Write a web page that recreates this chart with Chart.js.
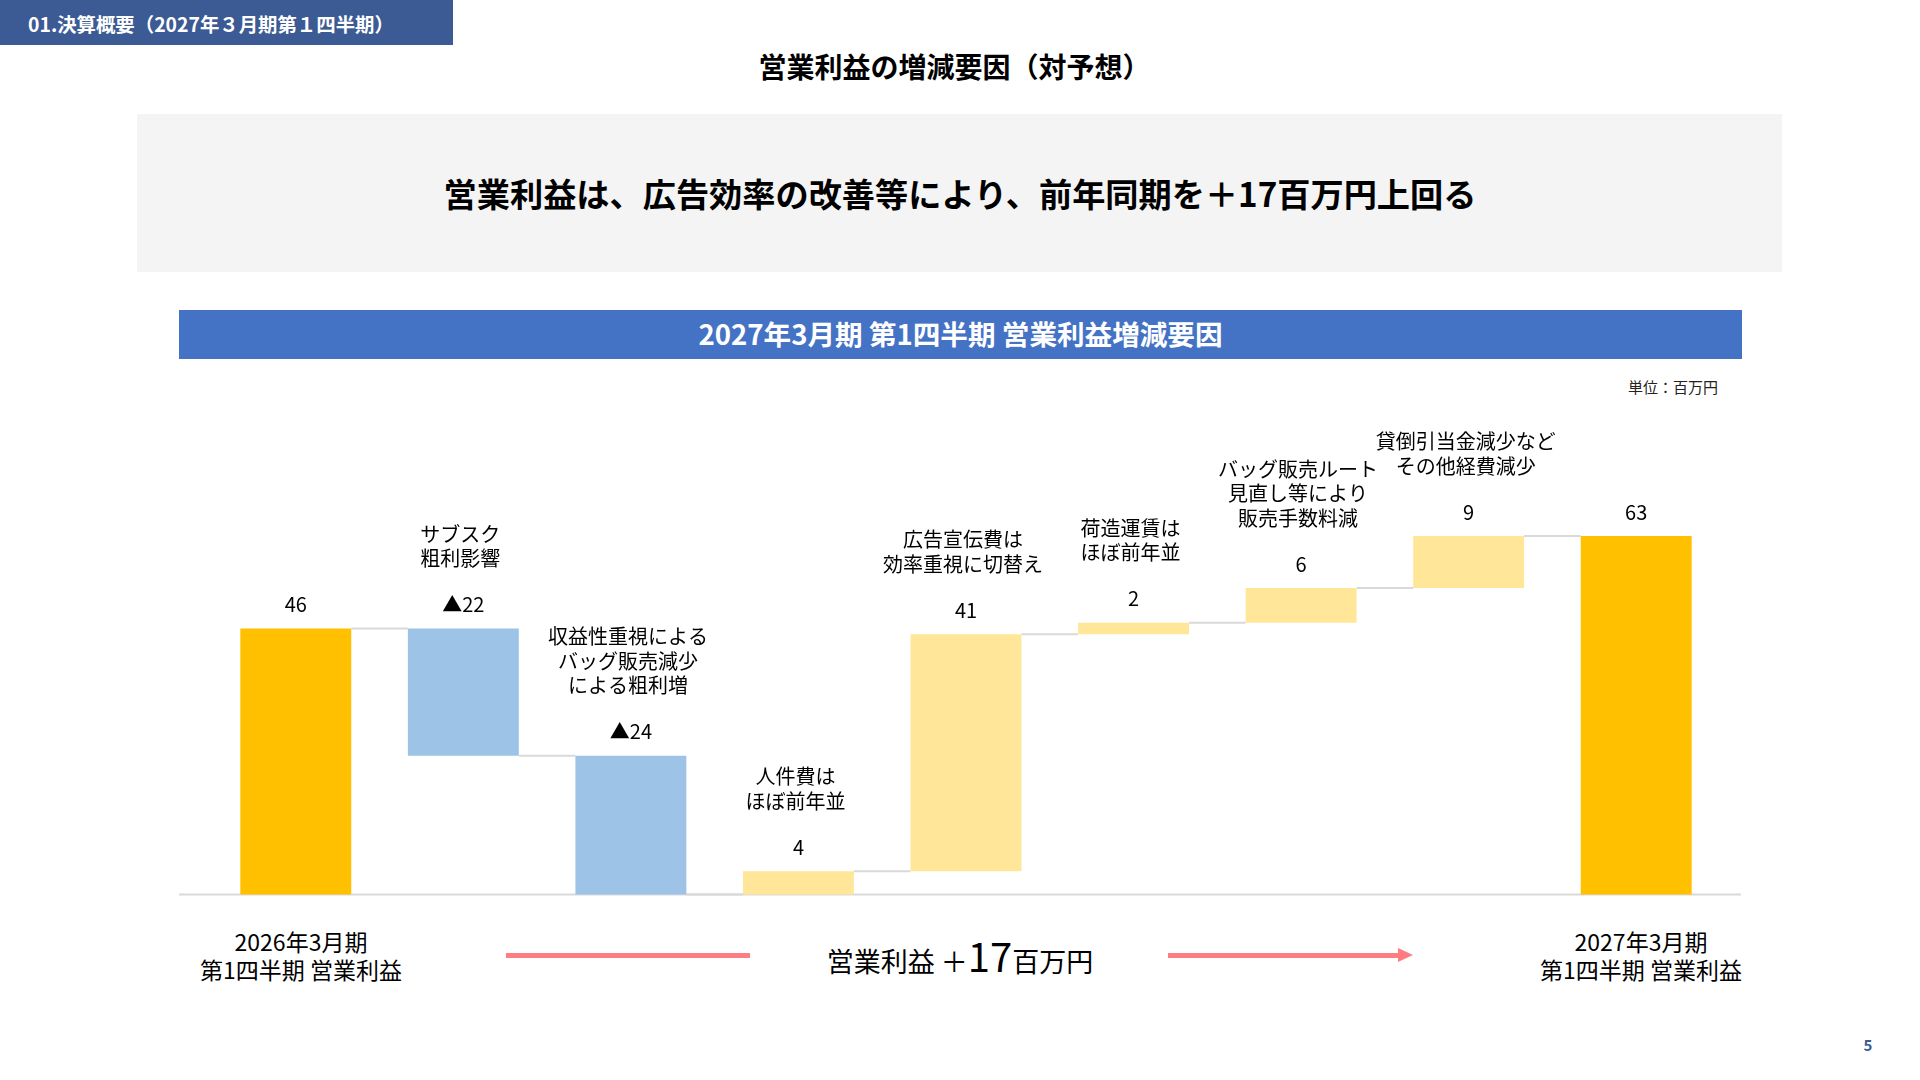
<!DOCTYPE html>
<html lang="ja">
<head>
<meta charset="utf-8">
<script src="https://cdn.jsdelivr.net/npm/chart.js@4.4.1/dist/chart.umd.min.js"></script>
<style>
  html, body { margin: 0; padding: 0; background: #fff; }
  body { width: 1920px; height: 1080px; position: relative; overflow: hidden;
         font-family: 'Noto Sans CJK JP', 'Noto Sans', sans-serif; color: #000; }
  .abs { position: absolute; white-space: nowrap; }
  #hdr { left: 0; top: 0; width: 453px; height: 45px; background: #3C5A93; }
  #hdrText { left: 28px; top: 24px; transform: translateY(-50%); color: #fff; font-size: 19.4px; font-weight: 700; line-height: 1; }
  #title { left: 0; width: 1909px; text-align: center; top: 66px; transform: translateY(-50%); font-size: 28px; font-weight: 700; line-height: 1; }
  #greyBox { left: 137px; top: 114px; width: 1645px; height: 158px; background: #F4F4F4; }
  #headline { left: 0; width: 1920px; text-align: center; top: 193px; transform: translateY(-50%); font-size: 33.2px; font-weight: 700; line-height: 1; }
  #banner { left: 179px; top: 310px; width: 1563px; height: 49px; background: #4472C4; }
  #bannerText { left: 179px; width: 1563px; text-align: center; top: 334px; transform: translateY(-50%); color: #fff; font-size: 27.6px; font-weight: 700; line-height: 1; }
  #unit { right: 202px; top: 386px; transform: translateY(-50%); font-size: 15px; line-height: 1; color: #222; }
  .period { width: 300px; text-align: center; font-size: 23px; line-height: 28px; top: 927px; }
  #leftPeriod { left: 151px; }
  #rightPeriod { left: 1491px; }
  #mid { left: 0; width: 1920px; text-align: center; top: 955px; transform: translateY(-50%); line-height: 1; font-size: 27px; }
  #mid .big { font-size: 40px; }
  #line1 { left: 506px; top: 953px; width: 244px; height: 5px; background: #FF7C80; }
  #line2 { left: 1168px; top: 953px; width: 232px; height: 5px; background: #FF7C80; }
  #arrowHead { left: 1398px; top: 948px; width: 0; height: 0; border-top: 7.5px solid transparent; border-bottom: 7.5px solid transparent; border-left: 15px solid #FF7C80; }
  #page { left: 1868px; top: 1044px; transform: translate(-50%, -50%); font-size: 15px; font-weight: 700; color: #3C5A93; line-height: 1; }
  #chartCanvas { position: absolute; left: 0; top: 0; }
</style>
</head>
<body>
<div class="abs" id="hdr"></div>
<div class="abs" id="hdrText">01.決算概要（2027年３月期第１四半期）</div>
<div class="abs" id="title">営業利益の増減要因（対予想）</div>
<div class="abs" id="greyBox"></div>
<div class="abs" id="headline">営業利益は、広告効率の改善等により、前年同期を＋17百万円上回る</div>
<div class="abs" id="banner"></div>
<div class="abs" id="bannerText">2027年3月期 第1四半期 営業利益増減要因</div>
<div class="abs" id="unit">単位：百万円</div>
<div class="abs period" id="leftPeriod">2026年3月期<br>第1四半期 営業利益</div>
<div class="abs period" id="rightPeriod">2027年3月期<br>第1四半期 営業利益</div>
<div class="abs" id="line1"></div>
<div class="abs" id="line2"></div>
<div class="abs" id="arrowHead"></div>
<div class="abs" id="mid">営業利益 ＋<span class="big">17</span>百万円</div>
<div class="abs" id="page">5</div>
<canvas id="chartCanvas" width="1920" height="1080"></canvas>
<script>
// ---- data ----
const categories = [
  '2026年3月期 第1四半期 営業利益',
  'サブスク粗利影響',
  'バッグ販売減少による粗利増',
  '人件費',
  '広告宣伝費',
  '荷造運賃',
  '販売手数料',
  'その他経費',
  '2027年3月期 第1四半期 営業利益'
];
const startValue = 46;
const changes = [-22, -24, 4, 41, 2, 6, 9];
const valueLabels = ['46', '▲22', '▲24', '4', '41', '2', '6', '9', '63'];
const noteLines = [
  [],
  ['サブスク', '粗利影響'],
  ['収益性重視による', 'バッグ販売減少', 'による粗利増'],
  ['人件費は', 'ほぼ前年並'],
  ['広告宣伝費は', '効率重視に切替え'],
  ['荷造運賃は', 'ほぼ前年並'],
  ['バッグ販売ルート', '見直し等により', '販売手数料減'],
  ['貸倒引当金減少など', 'その他経費減少'],
  []
];

// ---- build waterfall ----
const floating = [];
const levels = [];
const colors = [];
let cum = startValue;
floating.push([0, startValue]); levels.push(cum); colors.push('#FFC000');
changes.forEach(c => {
  const prev = cum;
  cum += c;
  floating.push([Math.min(prev, cum), Math.max(prev, cum)]);
  levels.push(cum);
  colors.push(c < 0 ? '#9DC3E6' : '#FFE699');
});
floating.push([0, cum]); levels.push(cum); colors.push('#FFC000');

const FONT = "'Noto Sans CJK JP', 'Noto Sans', sans-serif";

const connectorPlugin = {
  id: 'connectors',
  beforeDatasetsDraw(chart) {
    const ctx = chart.ctx;
    const meta = chart.getDatasetMeta(0);
    const ys = chart.scales.y;
    ctx.save();
    ctx.strokeStyle = '#D9D9D9';
    ctx.lineWidth = 2;
    const y0 = ys.getPixelForValue(0);
    ctx.beginPath();
    ctx.moveTo(chart.chartArea.left - 33, y0);
    ctx.lineTo(chart.chartArea.right + 21, y0);
    ctx.stroke();
    for (let i = 0; i < meta.data.length - 1; i++) {
      const a = meta.data[i], b = meta.data[i + 1];
      const y = ys.getPixelForValue(levels[i]);
      ctx.beginPath();
      ctx.moveTo(a.x + a.width / 2, y);
      ctx.lineTo(b.x - b.width / 2, y);
      ctx.stroke();
    }
    ctx.restore();
  }
};

const labelPlugin = {
  id: 'labels',
  afterDatasetsDraw(chart) {
    const ctx = chart.ctx;
    const meta = chart.getDatasetMeta(0);
    ctx.save();
    ctx.fillStyle = '#000';
    ctx.textAlign = 'center';
    ctx.textBaseline = 'middle';
    meta.data.forEach((bar, i) => {
      const top = Math.min(bar.y, bar.base);
      const vy = top - 24;
      ctx.font = '20px ' + FONT;
      ctx.fillText(valueLabels[i], bar.x, vy);
      const lines = noteLines[i];
      ctx.font = '20px ' + FONT;
      for (let k = 0; k < lines.length; k++) {
        const ly = vy - 46 - (lines.length - 1 - k) * 24.5;
        ctx.fillText(lines[k], bar.x - 3, ly);
      }
    });
    ctx.restore();
  }
};

new Chart(document.getElementById('chartCanvas'), {
  type: 'bar',
  data: {
    labels: categories,
    datasets: [{
      data: floating,
      backgroundColor: colors,
      borderWidth: 0,
      categoryPercentage: 1,
      barPercentage: 0.662
    }]
  },
  options: {
    responsive: false,
    animation: false,
    layout: { padding: { left: 212, right: 200, top: 432, bottom: 174 } },
    plugins: { legend: { display: false }, tooltip: { enabled: false } },
    scales: {
      x: { display: false },
      y: { display: false, min: -2, max: 80 }
    }
  },
  plugins: [connectorPlugin, labelPlugin]
});
</script>
</body>
</html>
